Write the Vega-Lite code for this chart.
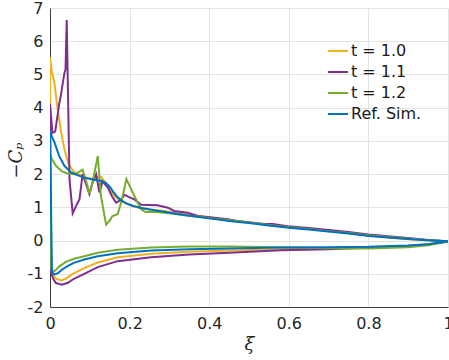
{
"$schema":"https://vega.github.io/schema/vega-lite/v6.json",
"width":398,"height":299,"autosize":"none",
"padding":{"left":50,"top":8,"right":1,"bottom":53},
"background":"white",
"config":{"view":{"stroke":null},"font":"DejaVu Sans"},
"data":{"values":[
{"s":"t = 1.0","x":1.0,"y":-0.02},{"s":"t = 1.0","x":0.95,"y":0.0},{"s":"t = 1.0","x":0.9,"y":0.04},{"s":"t = 1.0","x":0.85,"y":0.09},{"s":"t = 1.0","x":0.8,"y":0.16},{"s":"t = 1.0","x":0.75,"y":0.23},{"s":"t = 1.0","x":0.7,"y":0.3},{"s":"t = 1.0","x":0.65,"y":0.36},{"s":"t = 1.0","x":0.6,"y":0.41},{"s":"t = 1.0","x":0.55,"y":0.48},{"s":"t = 1.0","x":0.5,"y":0.55},{"s":"t = 1.0","x":0.45,"y":0.62},{"s":"t = 1.0","x":0.4,"y":0.7},{"s":"t = 1.0","x":0.36,"y":0.76},{"s":"t = 1.0","x":0.32,"y":0.82},{"s":"t = 1.0","x":0.287,"y":0.89},{"s":"t = 1.0","x":0.24,"y":0.95},{"s":"t = 1.0","x":0.212,"y":1.02},{"s":"t = 1.0","x":0.195,"y":1.1},{"s":"t = 1.0","x":0.178,"y":1.19},{"s":"t = 1.0","x":0.165,"y":1.3},{"s":"t = 1.0","x":0.155,"y":1.45},{"s":"t = 1.0","x":0.145,"y":1.65},{"s":"t = 1.0","x":0.137,"y":1.78},{"s":"t = 1.0","x":0.128,"y":1.92},{"s":"t = 1.0","x":0.118,"y":1.9},{"s":"t = 1.0","x":0.105,"y":1.86},{"s":"t = 1.0","x":0.09,"y":1.9},{"s":"t = 1.0","x":0.075,"y":1.98},{"s":"t = 1.0","x":0.061,"y":2.05},{"s":"t = 1.0","x":0.052,"y":2.2},{"s":"t = 1.0","x":0.044,"y":2.4},{"s":"t = 1.0","x":0.036,"y":2.76},{"s":"t = 1.0","x":0.028,"y":3.26},{"s":"t = 1.0","x":0.019,"y":3.97},{"s":"t = 1.0","x":0.011,"y":4.75},{"s":"t = 1.0","x":0.005,"y":5.05},{"s":"t = 1.0","x":0.0,"y":5.52},
{"s":"t = 1.0","x":0.002,"y":-0.9},{"s":"t = 1.0","x":0.008,"y":-1.05},{"s":"t = 1.0","x":0.015,"y":-1.15},{"s":"t = 1.0","x":0.028,"y":-1.2},{"s":"t = 1.0","x":0.04,"y":-1.15},{"s":"t = 1.0","x":0.055,"y":-1.02},{"s":"t = 1.0","x":0.086,"y":-0.83},{"s":"t = 1.0","x":0.12,"y":-0.66},{"s":"t = 1.0","x":0.17,"y":-0.5},{"s":"t = 1.0","x":0.254,"y":-0.4},{"s":"t = 1.0","x":0.35,"y":-0.34},{"s":"t = 1.0","x":0.45,"y":-0.3},{"s":"t = 1.0","x":0.58,"y":-0.26},{"s":"t = 1.0","x":0.7,"y":-0.23},{"s":"t = 1.0","x":0.8,"y":-0.2},{"s":"t = 1.0","x":0.9,"y":-0.16},{"s":"t = 1.0","x":0.95,"y":-0.11},{"s":"t = 1.0","x":1.0,"y":-0.03},

{"s":"t = 1.1","x":1.0,"y":-0.02},{"s":"t = 1.1","x":0.95,"y":0.02},{"s":"t = 1.1","x":0.9,"y":0.08},{"s":"t = 1.1","x":0.85,"y":0.13},{"s":"t = 1.1","x":0.8,"y":0.18},{"s":"t = 1.1","x":0.75,"y":0.26},{"s":"t = 1.1","x":0.7,"y":0.32},{"s":"t = 1.1","x":0.65,"y":0.38},{"s":"t = 1.1","x":0.597,"y":0.43},{"s":"t = 1.1","x":0.56,"y":0.5},{"s":"t = 1.1","x":0.538,"y":0.5},{"s":"t = 1.1","x":0.48,"y":0.57},{"s":"t = 1.1","x":0.446,"y":0.64},{"s":"t = 1.1","x":0.413,"y":0.69},{"s":"t = 1.1","x":0.371,"y":0.74},{"s":"t = 1.1","x":0.346,"y":0.84},{"s":"t = 1.1","x":0.312,"y":0.89},{"s":"t = 1.1","x":0.296,"y":0.99},{"s":"t = 1.1","x":0.27,"y":1.06},{"s":"t = 1.1","x":0.25,"y":1.07},{"s":"t = 1.1","x":0.229,"y":1.08},{"s":"t = 1.1","x":0.212,"y":1.24},{"s":"t = 1.1","x":0.2,"y":1.3},{"s":"t = 1.1","x":0.187,"y":1.38},{"s":"t = 1.1","x":0.178,"y":1.22},{"s":"t = 1.1","x":0.166,"y":1.14},{"s":"t = 1.1","x":0.155,"y":1.35},{"s":"t = 1.1","x":0.145,"y":1.6},{"s":"t = 1.1","x":0.132,"y":1.78},{"s":"t = 1.1","x":0.124,"y":1.45},{"s":"t = 1.1","x":0.116,"y":2.0},{"s":"t = 1.1","x":0.107,"y":1.75},{"s":"t = 1.1","x":0.099,"y":1.4},{"s":"t = 1.1","x":0.09,"y":1.72},{"s":"t = 1.1","x":0.082,"y":2.0},{"s":"t = 1.1","x":0.074,"y":1.24},{"s":"t = 1.1","x":0.066,"y":1.05},{"s":"t = 1.1","x":0.057,"y":0.82},{"s":"t = 1.1","x":0.049,"y":1.84},{"s":"t = 1.1","x":0.042,"y":6.64},{"s":"t = 1.1","x":0.039,"y":5.15},{"s":"t = 1.1","x":0.036,"y":5.03},{"s":"t = 1.1","x":0.027,"y":4.35},{"s":"t = 1.1","x":0.023,"y":4.1},{"s":"t = 1.1","x":0.013,"y":3.28},{"s":"t = 1.1","x":0.006,"y":3.24},{"s":"t = 1.1","x":0.0,"y":4.12},
{"s":"t = 1.1","x":0.002,"y":-0.95},{"s":"t = 1.1","x":0.008,"y":-1.15},{"s":"t = 1.1","x":0.015,"y":-1.28},{"s":"t = 1.1","x":0.03,"y":-1.33},{"s":"t = 1.1","x":0.045,"y":-1.27},{"s":"t = 1.1","x":0.06,"y":-1.15},{"s":"t = 1.1","x":0.086,"y":-1.0},{"s":"t = 1.1","x":0.12,"y":-0.8},{"s":"t = 1.1","x":0.17,"y":-0.62},{"s":"t = 1.1","x":0.254,"y":-0.5},{"s":"t = 1.1","x":0.35,"y":-0.42},{"s":"t = 1.1","x":0.45,"y":-0.37},{"s":"t = 1.1","x":0.58,"y":-0.29},{"s":"t = 1.1","x":0.7,"y":-0.26},{"s":"t = 1.1","x":0.8,"y":-0.22},{"s":"t = 1.1","x":0.9,"y":-0.17},{"s":"t = 1.1","x":0.95,"y":-0.12},{"s":"t = 1.1","x":1.0,"y":-0.03},

{"s":"t = 1.2","x":1.0,"y":-0.02},{"s":"t = 1.2","x":0.95,"y":0.01},{"s":"t = 1.2","x":0.9,"y":0.06},{"s":"t = 1.2","x":0.85,"y":0.11},{"s":"t = 1.2","x":0.8,"y":0.16},{"s":"t = 1.2","x":0.75,"y":0.23},{"s":"t = 1.2","x":0.7,"y":0.28},{"s":"t = 1.2","x":0.65,"y":0.35},{"s":"t = 1.2","x":0.6,"y":0.4},{"s":"t = 1.2","x":0.55,"y":0.47},{"s":"t = 1.2","x":0.5,"y":0.54},{"s":"t = 1.2","x":0.45,"y":0.61},{"s":"t = 1.2","x":0.4,"y":0.68},{"s":"t = 1.2","x":0.35,"y":0.75},{"s":"t = 1.2","x":0.3,"y":0.82},{"s":"t = 1.2","x":0.27,"y":0.86},{"s":"t = 1.2","x":0.24,"y":0.86},{"s":"t = 1.2","x":0.229,"y":0.94},{"s":"t = 1.2","x":0.212,"y":1.34},{"s":"t = 1.2","x":0.192,"y":1.85},{"s":"t = 1.2","x":0.18,"y":1.2},{"s":"t = 1.2","x":0.17,"y":0.79},{"s":"t = 1.2","x":0.157,"y":0.74},{"s":"t = 1.2","x":0.15,"y":0.6},{"s":"t = 1.2","x":0.141,"y":0.48},{"s":"t = 1.2","x":0.128,"y":1.34},{"s":"t = 1.2","x":0.12,"y":2.55},{"s":"t = 1.2","x":0.107,"y":1.75},{"s":"t = 1.2","x":0.099,"y":1.4},{"s":"t = 1.2","x":0.093,"y":1.7},{"s":"t = 1.2","x":0.082,"y":2.13},{"s":"t = 1.2","x":0.075,"y":2.08},{"s":"t = 1.2","x":0.063,"y":2.0},{"s":"t = 1.2","x":0.044,"y":2.02},{"s":"t = 1.2","x":0.03,"y":2.08},{"s":"t = 1.2","x":0.015,"y":2.25},{"s":"t = 1.2","x":0.005,"y":2.45},{"s":"t = 1.2","x":0.0,"y":2.6},
{"s":"t = 1.2","x":0.003,"y":-0.85},{"s":"t = 1.2","x":0.008,"y":-0.95},{"s":"t = 1.2","x":0.015,"y":-0.88},{"s":"t = 1.2","x":0.025,"y":-0.76},{"s":"t = 1.2","x":0.04,"y":-0.64},{"s":"t = 1.2","x":0.06,"y":-0.55},{"s":"t = 1.2","x":0.086,"y":-0.47},{"s":"t = 1.2","x":0.12,"y":-0.37},{"s":"t = 1.2","x":0.17,"y":-0.28},{"s":"t = 1.2","x":0.254,"y":-0.21},{"s":"t = 1.2","x":0.35,"y":-0.18},{"s":"t = 1.2","x":0.45,"y":-0.18},{"s":"t = 1.2","x":0.58,"y":-0.2},{"s":"t = 1.2","x":0.7,"y":-0.23},{"s":"t = 1.2","x":0.8,"y":-0.24},{"s":"t = 1.2","x":0.9,"y":-0.2},{"s":"t = 1.2","x":0.95,"y":-0.14},{"s":"t = 1.2","x":1.0,"y":-0.03},

{"s":"Ref. Sim.","x":1.0,"y":-0.02},{"s":"Ref. Sim.","x":0.95,"y":0.01},{"s":"Ref. Sim.","x":0.9,"y":0.05},{"s":"Ref. Sim.","x":0.85,"y":0.09},{"s":"Ref. Sim.","x":0.8,"y":0.14},{"s":"Ref. Sim.","x":0.75,"y":0.21},{"s":"Ref. Sim.","x":0.7,"y":0.27},{"s":"Ref. Sim.","x":0.65,"y":0.33},{"s":"Ref. Sim.","x":0.606,"y":0.38},{"s":"Ref. Sim.","x":0.55,"y":0.45},{"s":"Ref. Sim.","x":0.505,"y":0.52},{"s":"Ref. Sim.","x":0.45,"y":0.59},{"s":"Ref. Sim.","x":0.405,"y":0.66},{"s":"Ref. Sim.","x":0.36,"y":0.73},{"s":"Ref. Sim.","x":0.32,"y":0.8},{"s":"Ref. Sim.","x":0.29,"y":0.86},{"s":"Ref. Sim.","x":0.255,"y":0.93},{"s":"Ref. Sim.","x":0.23,"y":0.98},{"s":"Ref. Sim.","x":0.21,"y":1.04},{"s":"Ref. Sim.","x":0.195,"y":1.1},{"s":"Ref. Sim.","x":0.18,"y":1.2},{"s":"Ref. Sim.","x":0.17,"y":1.3},{"s":"Ref. Sim.","x":0.16,"y":1.45},{"s":"Ref. Sim.","x":0.15,"y":1.62},{"s":"Ref. Sim.","x":0.14,"y":1.74},{"s":"Ref. Sim.","x":0.128,"y":1.8},{"s":"Ref. Sim.","x":0.11,"y":1.83},{"s":"Ref. Sim.","x":0.09,"y":1.88},{"s":"Ref. Sim.","x":0.07,"y":1.96},{"s":"Ref. Sim.","x":0.053,"y":2.05},{"s":"Ref. Sim.","x":0.036,"y":2.25},{"s":"Ref. Sim.","x":0.023,"y":2.55},{"s":"Ref. Sim.","x":0.011,"y":2.96},{"s":"Ref. Sim.","x":0.004,"y":3.15},{"s":"Ref. Sim.","x":0.0,"y":3.3},
{"s":"Ref. Sim.","x":0.005,"y":-0.98},{"s":"Ref. Sim.","x":0.012,"y":-1.02},{"s":"Ref. Sim.","x":0.02,"y":-0.98},{"s":"Ref. Sim.","x":0.03,"y":-0.88},{"s":"Ref. Sim.","x":0.045,"y":-0.76},{"s":"Ref. Sim.","x":0.06,"y":-0.67},{"s":"Ref. Sim.","x":0.086,"y":-0.57},{"s":"Ref. Sim.","x":0.12,"y":-0.47},{"s":"Ref. Sim.","x":0.17,"y":-0.38},{"s":"Ref. Sim.","x":0.254,"y":-0.3},{"s":"Ref. Sim.","x":0.35,"y":-0.26},{"s":"Ref. Sim.","x":0.45,"y":-0.24},{"s":"Ref. Sim.","x":0.58,"y":-0.21},{"s":"Ref. Sim.","x":0.7,"y":-0.2},{"s":"Ref. Sim.","x":0.8,"y":-0.19},{"s":"Ref. Sim.","x":0.9,"y":-0.15},{"s":"Ref. Sim.","x":0.95,"y":-0.11},{"s":"Ref. Sim.","x":1.0,"y":-0.03}
]},
"mark":{"type":"line","strokeWidth":2,"clip":true},
"encoding":{
"x":{"field":"x","type":"quantitative","scale":{"domain":[0,1],"nice":false,"zero":false},
"axis":{"values":[0,0.2,0.4,0.6,0.8,1],"labelExpr":"'' + datum.value","title":"ξ","titleFont":"DejaVu Serif","titleFontStyle":"italic","titleFontWeight":"normal","titleFontSize":18,"titleColor":"#262626","titleY":42,"titleBaseline":"alphabetic","labelFont":"DejaVu Sans","labelFontSize":16,"labelColor":"#262626","labelPadding":8,"labelFlush":false,"ticks":false,"domainColor":"#404040","domainWidth":1,"gridColor":"#e3e3e3","gridWidth":1,"labelOverlap":false}},
"y":{"field":"y","type":"quantitative","scale":{"domain":[-2,7],"nice":false,"zero":false},
"axis":{"values":[-2,-1,0,1,2,3,4,5,6,7],"labelExpr":"'' + datum.value","title":"−Cₚ","titleFont":"DejaVu Serif","titleFontStyle":"italic","titleFontWeight":"normal","titleFontSize":18,"titleColor":"#262626","titleAngle":-90,"titleX":-29,"titleY":152,"titleBaseline":"alphabetic","titleAlign":"center","labelFont":"DejaVu Sans","labelFontSize":16,"labelColor":"#262626","labelPadding":7,"labelFlush":false,"ticks":false,"domainColor":"#404040","domainWidth":1,"gridColor":"#e3e3e3","gridWidth":1,"labelOverlap":false}},
"color":{"field":"s","type":"nominal","sort":["t = 1.0","t = 1.1","t = 1.2","Ref. Sim."],
"scale":{"domain":["t = 1.0","t = 1.1","t = 1.2","Ref. Sim."],"range":["#EDB120","#7E2F8E","#77AC30","#0072BD"]},
"legend":{"title":null,"orient":"none","legendX":277,"legendY":32,"padding":0,"symbolType":"stroke","symbolSize":400,"symbolStrokeWidth":2,"labelFont":"DejaVu Sans","labelFontSize":16,"labelColor":"#1a1a1a","labelOffset":2,"rowPadding":2,"labelLimit":200}},
"order":{"value":null}
}
}
